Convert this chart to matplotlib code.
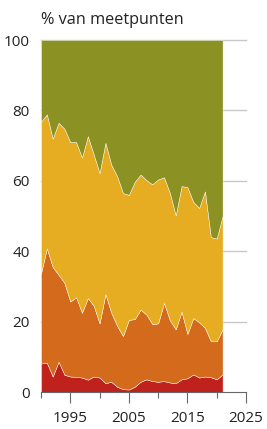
import numpy as np
import matplotlib
matplotlib.use('Agg')
import matplotlib.pyplot as plt

plt.rcParams['font.family'] = ['Open Sans', 'DejaVu Sans']

years = np.arange(1990, 2022)

red = [8.1, 8.3, 4.4, 8.6, 4.9, 4.4, 4.3, 4.1, 3.5, 4.4, 4.1, 2.5, 2.9, 1.5, 0.8, 0.7,
       1.5, 2.9, 3.6, 3.1, 2.9, 3.1, 2.7, 2.5, 3.6, 3.9, 5.0, 4.1, 4.4, 4.2, 3.6, 5.0]
orange = [25.6, 32.5, 31.1, 24.7, 26.1, 21.3, 22.6, 18.4, 23.2, 20.1, 15.4, 25.3, 19.6, 17.3,
          15.1, 19.8, 19.2, 20.5, 18.4, 16.2, 16.6, 22.2, 17.7, 15.3, 19.2, 12.6, 16.0, 15.7,
          13.8, 10.2, 10.8, 12.8]
yellow = [43.1, 38.1, 36.5, 43.2, 43.8, 45.3, 44.1, 44.1, 46.0, 43.0, 42.7, 43.0, 42.1, 42.5,
          40.6, 35.5, 39.0, 38.4, 38.2, 39.7, 40.9, 35.7, 36.2, 32.4, 35.7, 41.7, 33.0, 32.5,
          38.8, 29.6, 29.2, 32.2]
green = [23.2, 21.1, 28.0, 23.5, 25.2, 29.0, 29.0, 33.4, 27.3, 32.5, 37.8, 29.2, 35.4, 38.7,
         43.5, 44.0, 40.3, 38.2, 39.8, 41.0, 39.6, 39.0, 43.4, 49.8, 41.5, 41.8, 46.0, 47.7,
         43.0, 56.0, 56.4, 50.0]

colors = ['#c1211c', '#d36a1c', '#e7ad22', '#8b9123']

fig = plt.figure(figsize=(2.67, 4.29), dpi=100)
ax = fig.add_axes([41 / 267, 37 / 429, 205 / 267, 352 / 429])

for yv in [20, 40, 60, 80, 100]:
    ax.axhline(yv, color='#c8c8c8', lw=1.0, zorder=0, clip_on=False)

ax.stackplot(years, red, orange, yellow, green, colors=colors,
             edgecolor='#ffffff', linewidth=0.3, zorder=2)

ax.set_xlim(1990, 2025)
ax.set_ylim(0, 100)

ax.set_yticks([0, 20, 40, 60, 80, 100])
ax.tick_params(axis='y', length=0, pad=8, labelsize=11, colors='#222222')

ax.set_xticks([1995, 2005, 2015, 2025])
ax.set_xticks([1990, 2000, 2010, 2020], minor=True)
ax.tick_params(axis='x', which='major', length=8, width=0.8, color='#666666',
               labelsize=11, pad=6, labelcolor='#222222')
ax.tick_params(axis='x', which='minor', length=4, width=0.8, color='#666666')

for s in ['top', 'right', 'left']:
    ax.spines[s].set_visible(False)
ax.spines['bottom'].set_color('#666666')
ax.spines['bottom'].set_linewidth(0.8)
ax.spines['bottom'].set_zorder(3)

fig.text(41 / 267, 1 - 20 / 429, '% van meetpunten', fontsize=11.7, color='#222222',
         ha='left', va='center')

fig.savefig('out.png', dpi=100)
